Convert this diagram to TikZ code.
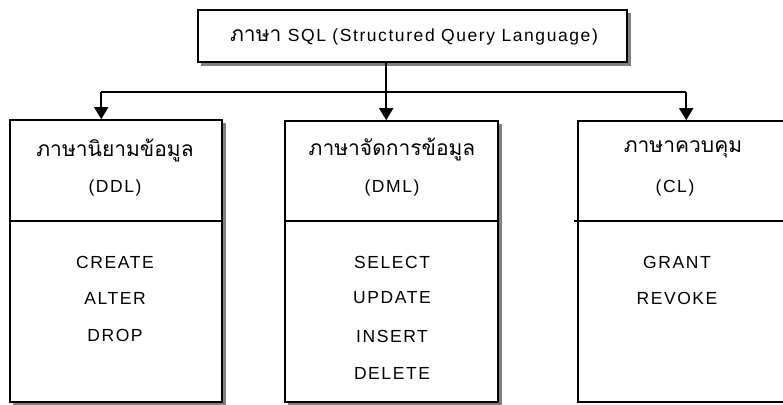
\documentclass[tikz,border=0pt]{standalone}
\usepackage{fontspec}
\setmainfont[LetterSpace=9]{Liberation Sans}
\newfontfamily\thaifont[Script=Thai]{Loma}
\usetikzlibrary{arrows.meta}
\begin{document}
\begin{tikzpicture}[x=1pt,y=-1pt,
  box/.style={draw, line width=1.6pt, fill=white, rectangle, inner sep=0pt},
  shade/.style={fill=black!50, draw=none},
  lbl/.style={font=\fontsize{17.5}{20}\selectfont, inner sep=0pt},
  thai/.style={font=\thaifont\fontsize{21}{24}\selectfont, inner sep=0pt},
  arr/.style={line width=1.6pt, -{Triangle[width=14pt,length=12pt]}},
  wire/.style={line width=1.6pt}]
\useasboundingbox (0,0) rectangle (783,404);
\clip (0,0) rectangle (783,404);
% shadows
\fill[shade] (201,13) rectangle (631,66);
\fill[shade] (13,123) rectangle (226,406);
\fill[shade] (288,124) rectangle (502,406);
% boxes
\node[box, minimum width=429pt, minimum height=52pt] (top) at (412.5,36) {};
\node[lbl] (toptxt) at (414,37) {{\thaifont\fontsize{21}{24}\selectfont ภาษา} SQL (Structured Query Language)};
\node[box, minimum width=212pt, minimum height=282pt] (ddl) at (116,261) {};
\node[box, minimum width=213pt, minimum height=281pt] (dml) at (391.5,261.5) {};
\node[box, minimum width=230pt, minimum height=281pt] (cl) at (693,261.5) {};
% dividers
\coordinate (div) at (0,221);
\draw[wire] (ddl.west |- div) -- (ddl.east |- div);
\draw[wire] (dml.west |- div) -- (dml.east |- div);
\draw[wire] ([xshift=-3pt]cl.west |- div) -- (cl.east |- div);
% labels
\node[thai] (t1) at (115,150) {ภาษานิยามข้อมูล};
\node[lbl] (c1) at (115,188) {(DDL)};
\node[lbl] (i11) at (115,262) {CREATE};
\node[lbl] (i12) at (115,298) {ALTER};
\node[lbl] (i13) at (115,335) {DROP};
\node[thai] (t2) at (392,149) {ภาษาจัดการข้อมูล};
\node[lbl] (c2) at (392,188) {(DML)};
\node[lbl] (i21) at (392,262) {SELECT};
\node[lbl] (i22) at (392,298) {UPDATE};
\node[lbl] (i23) at (392,336) {INSERT};
\node[lbl] (i24) at (392,373) {DELETE};
\node[thai] (t3) at (683,149) {ภาษาควบคุม};
\node[lbl] (c3) at (675,188) {(CL)};
\node[lbl] (i31) at (677,262) {GRANT};
\node[lbl] (i32) at (677,298) {REVOKE};
% connectors
\coordinate (bus) at (0,92);
\path (top.south west) ++(189,0) coordinate (out0);
\path (ddl.north west) ++(92,0) coordinate (in1);
\path (dml.north west) ++(102,0) coordinate (in2);
\path (cl.north west) ++(109,0) coordinate (in3);
\draw[wire] (out0) -- (out0 |- bus);
\draw[wire] (in1 |- bus) -- (in3 |- bus);
\draw[arr] (in1 |- bus) -- (in1);
\draw[arr] (in2 |- bus) -- (in2);
\draw[arr] (in3 |- bus) -- (in3);
\end{tikzpicture}
\end{document}
